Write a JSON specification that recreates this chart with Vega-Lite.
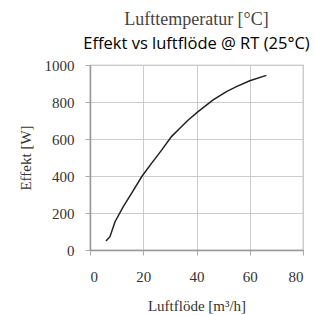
{
  "$schema": "https://vega.github.io/schema/vega-lite/v6.json",
  "autosize": "none",
  "width": 213,
  "height": 185,
  "padding": {"left": 90, "top": 65, "right": 12, "bottom": 65},
  "background": "white",
  "title": {
    "text": "Lufttemperatur [°C]",
    "subtitle": "Effekt vs luftflöde @ RT (25°C)",
    "anchor": "middle",
    "frame": "group",
    "font": "Liberation Serif",
    "fontSize": 18,
    "fontWeight": "normal",
    "color": "#444444",
    "subtitleFont": "Open Sans",
    "subtitleFontSize": 16.5,
    "subtitleColor": "#000000",
    "subtitlePadding": 7,
    "offset": 6
  },
  "data": {
    "values": [
      {"flow": 6, "power": 49},
      {"flow": 7.5, "power": 72},
      {"flow": 9.4, "power": 153},
      {"flow": 12.5, "power": 234},
      {"flow": 15.6, "power": 306},
      {"flow": 19.4, "power": 396},
      {"flow": 23.1, "power": 468},
      {"flow": 26.9, "power": 540},
      {"flow": 30.6, "power": 613},
      {"flow": 33.75, "power": 658},
      {"flow": 36.9, "power": 703},
      {"flow": 40.6, "power": 748},
      {"flow": 46.25, "power": 811},
      {"flow": 51.25, "power": 856},
      {"flow": 55, "power": 883},
      {"flow": 60, "power": 915},
      {"flow": 66.25, "power": 944}
    ]
  },
  "mark": {"type": "line", "color": "#222222", "strokeWidth": 1.5},
  "encoding": {
    "x": {
      "field": "flow",
      "type": "quantitative",
      "scale": {"domain": [0, 80], "nice": false},
      "axis": {"values": [0, 20, 40, 60, 80], "format": "d", "grid": true, "labelOverlap": false, "title": "Luftflöde [m³/h]", "titlePadding": 14, "labelPadding": 14}
    },
    "y": {
      "field": "power",
      "type": "quantitative",
      "scale": {"domain": [0, 1000], "nice": false},
      "axis": {"values": [0, 200, 400, 600, 800, 1000], "format": "d", "grid": true, "labelOverlap": false, "title": "Effekt [W]", "titlePadding": 11, "labelPadding": 11}
    }
  },
  "config": {
    "view": {"stroke": "#aaaaaa", "strokeWidth": 1.2},
    "axis": {
      "labelFont": "Liberation Serif",
      "labelFontSize": 15,
      "labelColor": "#333333",
      "titleFont": "Liberation Serif",
      "titleFontSize": 15,
      "titleFontWeight": "normal",
      "titleColor": "#333333",
      "domainColor": "#999999",
      "domainWidth": 1.5,
      "tickColor": "#aaaaaa",
      "tickWidth": 1,
      "tickSize": 5,
      "gridColor": "#cccccc",
      "gridWidth": 1
    }
  }
}
